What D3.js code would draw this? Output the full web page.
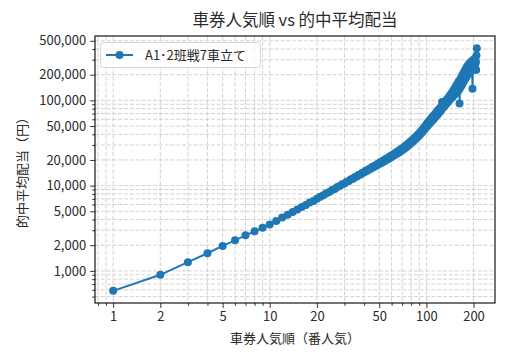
<html>
<head>
<meta charset="utf-8" />
<script src="https://d3js.org/d3.v7.min.js"></script>
<style>
  body { margin: 0; background: #fff; }
  text { font-family: "Noto Sans CJK JP", sans-serif; fill: #2a2a2a; }
  .grid line { stroke: #c8c8c8; stroke-width: 0.8; stroke-dasharray: 4,1.8; }
</style>
</head>
<body>
<svg id="chart" width="509" height="360"></svg>
<script>
// 車券人気順 (1..210) and average payout
const seriesName = "A1･2班戦7車立て"
const payout = [
  583, 900, 1265, 1610, 1960, 2285, 2610, 2910, 3200, 3510,
  3860, 4230, 4540, 4920, 5250, 5630, 5940, 6330, 6620, 7010,
  7390, 7700, 8130, 8430, 8880, 9150, 9620, 9880, 10380, 10620,
  11120, 11330, 11880, 12060, 12640, 12780, 13410, 13520, 14180, 14250,
  14930, 14990, 15720, 15700, 16500, 16450, 17280, 17150, 18050, 17900,
  18900, 18600, 19700, 19350, 20500, 20100, 21350, 20850, 22200, 21700,
  23100, 22500, 23950, 23300, 24900, 24100, 25900, 25000, 26900, 26000,
  27900, 26900, 29000, 28100, 30200, 29200, 31400, 30300, 32700, 31600,
  34000, 33000, 35500, 34300, 37000, 35700, 38500, 37300, 40200, 38800,
  42000, 40500, 44000, 42400, 46100, 44200, 48400, 46300, 50800, 48600,
  53700, 50500, 56000, 52800, 58500, 54800, 61000, 57000, 63500, 59000,
  66000, 61500, 68500, 63800, 71200, 66000, 74000, 68500, 76500, 71000,
  79500, 73500, 82000, 76000, 85000, 96000, 88000, 82000, 91500, 85000,
  95000, 88000, 98500, 91000, 102000, 94000, 105000, 97500, 109000, 101000,
  113000, 104000, 117000, 106000, 121000, 109000, 126000, 112000, 131000, 116000,
  137000, 118000, 142000, 121000, 148000, 124000, 154000, 127000, 160000, 131000,
  168000, 134000, 92000, 140000, 178000, 145000, 185000, 150000, 193000, 157000,
  203000, 163000, 210000, 170000, 218000, 176000, 226000, 182000, 235000, 188000,
  245000, 194000, 252000, 200000, 258000, 206000, 265000, 212000, 270000, 218000,
  276000, 224000, 282000, 230000, 287000, 236000, 137000, 242000, 295000, 248000,
  300000, 255000, 265000, 310000, 262000, 292000, 280000, 227000, 335000, 410000
]
const rank = payout.map((d, i) => i + 1)
const xTickLabels = [1, 2, 5, 10, 20, 50, 100, 200]
const yTickLabels = [1000, 2000, 5000, 10000, 20000, 50000, 100000, 200000, 500000]

const pl = 95, pr = 495, pt = 36, pb = 303
const svg = d3.select("#chart")

// log extent with 5% margin like matplotlib
function pad(ext) {
  const a = Math.log10(ext[0]), b = Math.log10(ext[1]), m = (b - a) * 0.05
  return [Math.pow(10, a - m), Math.pow(10, b + m)]
}
const x = d3.scaleLog().domain(pad(d3.extent(rank))).range([pl, pr])
const y = d3.scaleLog().domain(pad(d3.extent(payout))).range([pb, pt])

function allTicks(scale) {
  const [a, b] = scale.domain(), out = []
  for (let e = Math.floor(Math.log10(a)); e <= Math.ceil(Math.log10(b)); e++)
    for (let k = 1; k < 10; k++) {
      const v = k * Math.pow(10, e)
      if (v >= a && v <= b) out.push(v)
    }
  return out
}
const xMinor = allTicks(x).filter(v => !xTickLabels.some(t => Math.abs(t - v) < 1e-9))
const yMinor = allTicks(y).filter(v => !yTickLabels.some(t => Math.abs(t - v) < 1e-9))

// grid
const grid = svg.append("g").attr("class", "grid")
grid.selectAll(".gx").data(allTicks(x)).enter().append("line")
  .attr("x1", d => x(d)).attr("x2", d => x(d)).attr("y1", pt).attr("y2", pb)
grid.selectAll(".gy").data(allTicks(y)).enter().append("line")
  .attr("y1", d => y(d)).attr("y2", d => y(d)).attr("x1", pl).attr("x2", pr)

// axes
const fmt = d3.format(",")
function styleAxis(g) {
  g.select(".domain").remove()
  g.selectAll("line").attr("stroke", "#000").attr("stroke-width", 0.8)
  g.selectAll("text").attr("font-size", 13).attr("fill", "#2a2a2a")
    .style("font-family", '"Noto Sans CJK JP", sans-serif')
}
svg.append("g").attr("transform", `translate(0,${pb})`)
  .call(d3.axisBottom(x).tickValues(xTickLabels).tickFormat(d3.format("d")).tickSize(4.9).tickPadding(4))
  .call(styleAxis)
svg.append("g").attr("transform", `translate(0,${pb})`)
  .call(d3.axisBottom(x).tickValues(xMinor).tickFormat("").tickSize(2.8))
  .call(styleAxis)
svg.append("g").attr("transform", `translate(${pl},0)`)
  .call(d3.axisLeft(y).tickValues(yTickLabels).tickFormat(fmt).tickSize(4.9).tickPadding(4))
  .call(styleAxis)
svg.append("g").attr("transform", `translate(${pl},0)`)
  .call(d3.axisLeft(y).tickValues(yMinor).tickFormat("").tickSize(2.8))
  .call(styleAxis)

// series
const blue = "#1f77b4"
svg.append("path").datum(payout)
  .attr("fill", "none").attr("stroke", blue).attr("stroke-width", 2)
  .attr("d", d3.line().x((d, i) => x(rank[i])).y(d => y(d)))
svg.append("g").selectAll("circle").data(payout).enter().append("circle")
  .attr("cx", (d, i) => x(rank[i])).attr("cy", d => y(d)).attr("r", 4).attr("fill", blue)

// frame
svg.append("rect").attr("x", pl).attr("y", pt).attr("width", pr - pl).attr("height", pb - pt)
  .attr("fill", "none").attr("stroke", "#000").attr("stroke-width", 1.1)

// legend
const lg = svg.append("g")
lg.append("rect").attr("x", 100.5).attr("y", 42.5).attr("width", 160).attr("height", 25).attr("rx", 3)
  .attr("fill", "#fff").attr("fill-opacity", 0.8).attr("stroke", "#d6d6d6")
lg.append("line").attr("x1", 106).attr("x2", 133).attr("y1", 55).attr("y2", 55)
  .attr("stroke", blue).attr("stroke-width", 2)
lg.append("circle").attr("cx", 119.5).attr("cy", 55).attr("r", 4).attr("fill", blue)
lg.append("text").attr("x", 145).attr("y", 60).attr("font-size", 13).text(seriesName)

// titles
svg.append("text").attr("x", (pl + pr) / 2).attr("y", 26).attr("text-anchor", "middle")
  .attr("font-size", 16.5).text("車券人気順 vs 的中平均配当")
svg.append("text").attr("x", (pl + pr) / 2).attr("y", 343).attr("text-anchor", "middle")
  .attr("font-size", 13).text("車券人気順（番人気）")
svg.append("text").attr("transform", `translate(27,${(pt + pb) / 2}) rotate(-90)`)
  .attr("text-anchor", "middle").attr("font-size", 13).text("的中平均配当（円）")
</script>
</body>
</html>
